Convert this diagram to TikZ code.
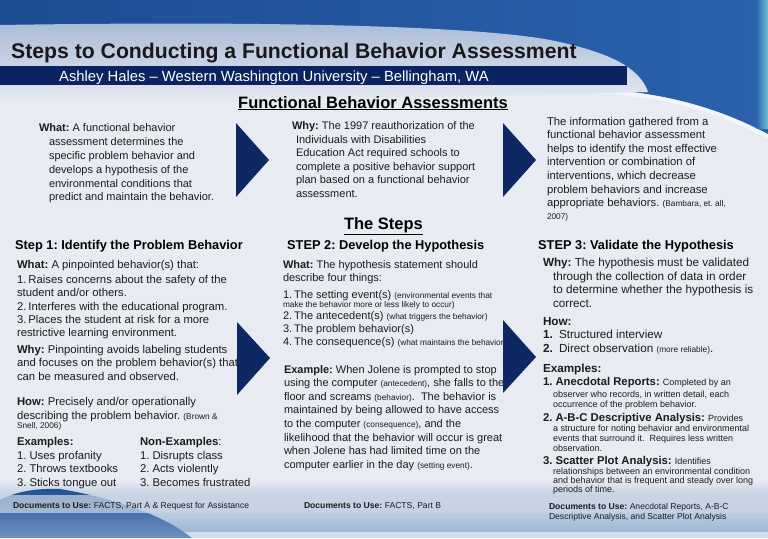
\documentclass[tikz,border=0pt]{standalone}
\usepackage{fontspec}
\setmainfont{Liberation Sans}
\frenchspacing
\definecolor{bodybg}{HTML}{E8EBF1}
\definecolor{topblue}{HTML}{2B62AD}
\definecolor{topblueD}{HTML}{1E4C93}
\definecolor{band}{HTML}{A8BBD7}
\definecolor{navy}{HTML}{0B2361}
\definecolor{arrowc}{HTML}{0D2862}
\definecolor{txt}{HTML}{1C1C1C}
\definecolor{tealc}{HTML}{6CC3D3}
\definecolor{botA}{HTML}{C8D4E5}
\definecolor{botB}{HTML}{A0B7D6}
\definecolor{botC}{HTML}{D5DEEB}
\definecolor{swA}{HTML}{21508F}
\definecolor{swB}{HTML}{6E93C5}
\newcommand\fsz[1]{\fontsize{#1}{#1}\selectfont}
\newcommand\smt[1]{{\fsz{8.3}#1}}
\begin{document}
\frenchspacing
\begin{tikzpicture}[x=1pt,y=-1pt,
  ln/.style={anchor=base west, inner sep=0pt, outer sep=0pt, text=txt},
  ta/.style={ln, font=\fsz{11}},
  tb/.style={ln, font=\fsz{11.3}},
  tc/.style={ln, font=\fsz{11.7}},
  ts/.style={ln, font=\fsz{9}},
  doc/.style={ln, font=\fsz{8.6}},
  hd/.style={anchor=base, inner sep=0pt, text=black, font=\bfseries\fsz{16.5}},
  sh/.style={anchor=base west, inner sep=0pt, text=black, font=\bfseries\fsz{12.8}},
  arrowtri/.style={fill=arrowc}]
\useasboundingbox (0,0) rectangle (768,538);
% ---------- background
\fill[bodybg] (0,0) rectangle (768,538);
\shade[left color=topblueD, right color=topblue] (0,0) -- (768,0) -- (768,134) .. controls (715,106) and (655,90) .. (585,89) -- (0,89) -- cycle;
\shade[left color=topblue, right color=tealc] (756,0) rectangle (768,128);
\draw[white, opacity=0.5, line width=4] (590,91) .. controls (660,93) and (720,110) .. (768,137);
\shade[top color=band, bottom color=bodybg] (0,25) .. controls (250,21) and (470,25) .. (550,40) .. controls (610,52) and (640,68) .. (648,92) .. controls (500,96) and (300,100) .. (0,104) -- cycle;
% bottom band
\shade[top color=bodybg, bottom color=botA] (0,480) rectangle (768,493);
\fill[botA] (0,493) rectangle (768,505);
\shade[top color=botA, bottom color=botB] (0,505) rectangle (768,532);
\fill[botC] (0,532) rectangle (768,538);
\shade[top color=swA, bottom color=swB] (0,500) .. controls (15,492) and (35,488) .. (60,489) .. controls (115,498) and (165,516) .. (192,538) -- (0,538) -- cycle;
\fill[botA, opacity=0.72] (0,495) rectangle (768,513);
% ---------- title
\node[anchor=base west, inner sep=0pt, font=\bfseries\fsz{21.2}, text=black!90] (title) at (11,58) {Steps to Conducting a Functional Behavior Assessment};
\fill[navy] (0,66) rectangle (627,85);
\node[anchor=base, inner sep=0pt, font=\fsz{14.8}, text=white] (sub) at (274,81) {Ashley Hales -- Western Washington University -- Bellingham, WA};
\node[hd] (fba) at (373,108) {\underline{Functional Behavior Assessments}};
\node[hd] (steps) at (383.5,229) {\underline{The Steps}};
% ---------- top blocks
\node[ta] (a1) at (39,131.5) {\textbf{What:} A functional behavior};
\node[ta] (a2) at (49,145.4) {assessment determines the};
\node[ta] (a3) at (49,159.2) {specific problem behavior and};
\node[ta] (a4) at (49,173.1) {develops a hypothesis of the};
\node[ta] (a5) at (49,187) {environmental conditions that};
\node[ta] (a6) at (49,200.9) {predict and maintain the behavior.};
\node[ta] (b1) at (292,129.5) {\textbf{Why:} The 1997 reauthorization of the};
\node[ta] (b2) at (296,143) {Individuals with Disabilities};
\node[ta] (b3) at (296,156.5) {Education Act required schools to};
\node[ta] (b4) at (296,170) {complete a positive behavior support};
\node[ta] (b5) at (296,183.5) {plan based on a functional behavior};
\node[ta] (b6) at (296,197) {assessment.};
\node[tb] (c1) at (547,125) {The information gathered from a};
\node[tb] (c2) at (547,138.6) {functional behavior assessment};
\node[tb] (c3) at (547,152.2) {helps to identify the most effective};
\node[tb] (c4) at (547,165.8) {intervention or combination of};
\node[tb] (c5) at (547,179.4) {interventions, which decrease};
\node[tb] (c6) at (547,193) {problem behaviors and increase};
\node[tb] (c7) at (547,206.6) {appropriate behaviors. \smt{(Bambara, et. all,}};
\node[ln, font=\fsz{8.3}] (c8) at (547,219.5) {2007)};
% ---------- step headings
\node[sh] (s1) at (15,249.5) {Step 1: Identify the Problem Behavior};
\node[sh] (s2) at (287,249.5) {STEP 2: Develop the Hypothesis};
\node[sh] (s3) at (538,249.5) {STEP 3: Validate the Hypothesis};
% ---------- step 1
\node[tb] (d1) at (17,268) {\textbf{What:} A pinpointed behavior(s) that:};
\node[tb] (d2) at (17,283) {1.\hspace{2pt}Raises concerns about the safety of the};
\node[tb] (d3) at (17,296.5) {student and/or others.};
\node[tb] (d4) at (17,310) {2.\hspace{2pt}Interferes with the educational program.};
\node[tb] (d5) at (17,323.5) {3.\hspace{2pt}Places the student at risk for a more};
\node[tb] (d6) at (17,336.5) {restrictive learning environment.};
\node[tb] (d7) at (17,353) {\textbf{Why:} Pinpointing avoids labeling students};
\node[tb] (d8) at (17,366.5) {and focuses on the problem behavior(s) that};
\node[tb] (d9) at (17,380) {can be measured and observed.};
\node[tb] (d10) at (17,405) {\textbf{How:} Precisely and/or operationally};
\node[tb] (d11) at (17,419) {describing the problem behavior. \smt{(Brown \&}};
\node[ln, font=\fsz{8.3}] (d12) at (17,428.5) {Snell, 2006)};
\node[tb] (d13) at (17,445) {\textbf{Examples:}};
\node[tb] (d14) at (17,459) {1. Uses profanity};
\node[tb] (d15) at (17,472.5) {2. Throws textbooks};
\node[tb] (d16) at (17,486) {3. Sticks tongue out};
\node[tb] (e13) at (140,445) {\textbf{Non-Examples}:};
\node[tb] (e14) at (140,459) {1. Disrupts class};
\node[tb] (e15) at (140,472.5) {2. Acts violently};
\node[tb] (e16) at (140,486) {3. Becomes frustrated};
\node[doc] (doc1) at (13,508) {\textbf{Documents to Use:} FACTS, Part A \& Request for Assistance};
% ---------- step 2
\node[ta] (f1) at (283,268.7) {\textbf{What:} The hypothesis statement should};
\node[ta] (f2) at (283,281.5) {describe four things:};
\node[ta] (f3) at (283,298) {1.\hspace{2pt}The setting event(s) \smt{(environmental events that}};
\node[ln, font=\fsz{8.3}] (f4) at (283,307) {make the behavior more or less likely to occur)};
\node[ta] (f5) at (283,319.5) {2.\hspace{2pt}The antecedent(s) \smt{(what triggers the behavior)}};
\node[ta] (f6) at (283,332.5) {3.\hspace{2pt}The problem behavior(s)};
\node[ta] (f7) at (283,345.5) {4.\hspace{2pt}The consequence(s) \smt{(what maintains the behavior)}};
\node[ta] (g1) at (284,373) {\textbf{Example:} When Jolene is prompted to stop};
\node[ta] (g2) at (284,386.6) {using the computer \smt{(antecedent)}, she falls to the};
\node[ta] (g3) at (284,400.2) {floor and screams \smt{(behavior)}.\ \ The behavior is};
\node[ta] (g4) at (284,413.8) {maintained by being allowed to have access};
\node[ta] (g5) at (284,427.4) {to the computer \smt{(consequence)}, and the};
\node[ta] (g6) at (284,441) {likelihood that the behavior will occur is great};
\node[ta] (g7) at (284,454.6) {when Jolene has had limited time on the};
\node[ta] (g8) at (284,468.2) {computer earlier in the day \smt{(setting event)}.};
\node[doc] (doc2) at (304,508) {\textbf{Documents to Use:} FACTS, Part B};
% ---------- step 3
\node[tc] (h1) at (543,266.5) {\textbf{Why:} The hypothesis must be validated};
\node[tc] (h2) at (553,280) {through the collection of data in order};
\node[tc] (h3) at (553,293.5) {to determine whether the hypothesis is};
\node[tc] (h4) at (553,307) {correct.};
\node[tc] (h5) at (543,325.5) {\textbf{How:}};
\node[tc] (h6) at (543,338.5) {\makebox[16pt][l]{\textbf{1.}}Structured interview};
\node[tc] (h7) at (543,352) {\makebox[16pt][l]{\textbf{2.}}Direct observation \smt{(more reliable)}.};
\node[tc] (h8) at (543,372) {\textbf{Examples:}};
\node[ln, font=\bfseries\fsz{11.3}] (k1) at (543,385.5) {1.\ Anecdotal Reports: {\mdseries\fsz{9}Completed by an}};
\node[ts] (k2) at (553,397) {observer who records, in written detail, each};
\node[ts] (k3) at (553,407) {occurrence of the problem behavior.};
\node[ln, font=\bfseries\fsz{11.3}] (k4) at (543,421) {2.\ A-B-C Descriptive Analysis: {\mdseries\fsz{9}Provides}};
\node[ts] (k5) at (553,431) {a structure for noting behavior and environmental};
\node[ts] (k6) at (553,441) {events that surround it.\ \ Requires less written};
\node[ts] (k7) at (553,451) {observation.};
\node[ln, font=\bfseries\fsz{11.3}] (k8) at (543,464.5) {3.\ Scatter Plot Analysis: {\mdseries\fsz{9}Identifies}};
\node[ts] (k9) at (553,474) {relationships between an environmental condition};
\node[ts] (k10) at (553,483.5) {and behavior that is frequent and steady over long};
\node[ts] (k11) at (553,492.5) {periods of time.};
\node[doc] (doc3) at (549,509) {\textbf{Documents to Use:} Anecdotal Reports, A-B-C};
\node[doc] (doc3b) at (549,519) {Descriptive Analysis, and Scatter Plot Analysis};
% ---------- arrows
\fill[arrowtri] (236,123) -- (269,160) -- (236,197) -- cycle;
\fill[arrowtri] (503,123) -- (536,160) -- (503,197) -- cycle;
\fill[arrowtri] (237,322) -- (270,358) -- (237,395) -- cycle;
\fill[arrowtri] (503,320) -- (536,357) -- (503,393) -- cycle;
\end{tikzpicture}
\end{document}
